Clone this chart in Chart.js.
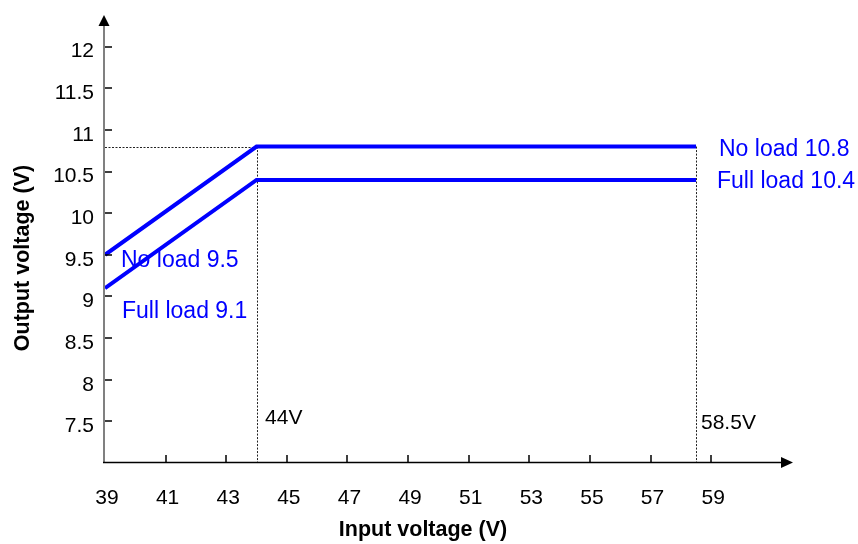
<!DOCTYPE html>
<html>
<head>
<meta charset="utf-8">
<script src="https://cdn.jsdelivr.net/npm/chart.js@4/dist/chart.umd.min.js"></script>
<style>
  html, body { margin: 0; padding: 0; background: #fff; }
  #wrap { width: 858px; height: 544px; position: relative; }
</style>
</head>
<body>
<div id="wrap"><canvas id="voltageChart"></canvas></div>
<script>
// input voltage breakpoints and output voltage per load condition
const inputVoltage = [39, 44, 58.5]
const noLoadOutput = [9.5, 10.8, 10.8]
const fullLoadOutput = [9.1, 10.4, 10.4]

// axis ticks
const xTicks = [39, 41, 43, 45, 47, 49, 51, 53, 55, 57, 59]
const yTicks = [7.5, 8, 8.5, 9, 9.5, 10, 10.5, 11, 11.5, 12]

const FONT = "'Liberation Sans', Arial, Helvetica, sans-serif"
const BLUE = '#0000FF'

const toPoints = (ys) => inputVoltage.map((x, i) => ({ x: x, y: ys[i] }))

// axes with arrows, inward ticks, dotted guides and annotations
const diagramPlugin = {
  id: 'diagram',
  beforeDatasetsDraw (chart) {
    const { ctx, scales: { x, y } } = chart
    const knee = inputVoltage[1]
    const end = inputVoltage[inputVoltage.length - 1]
    const top = y.getPixelForValue(noLoadOutput[1])
    const base = y.getPixelForValue(7)

    ctx.save()
    ctx.strokeStyle = '#222'
    ctx.lineWidth = 1
    ctx.setLineDash([2, 1.5])
    ctx.beginPath()
    ctx.moveTo(x.getPixelForValue(39), Math.round(top) + 0.5)
    ctx.lineTo(x.getPixelForValue(knee), Math.round(top) + 0.5)
    ctx.moveTo(Math.round(x.getPixelForValue(knee)) + 0.5, top)
    ctx.lineTo(Math.round(x.getPixelForValue(knee)) + 0.5, base)
    ctx.moveTo(Math.round(x.getPixelForValue(end)) + 0.5, top)
    ctx.lineTo(Math.round(x.getPixelForValue(end)) + 0.5, base)
    ctx.stroke()
    ctx.restore()
  },
  afterDraw (chart) {
    const { ctx, chartArea, scales: { x, y } } = chart
    const x0 = x.getPixelForValue(39)
    const y0 = y.getPixelForValue(7)

    ctx.save()

    // y axis
    ctx.strokeStyle = '#808080'
    ctx.lineWidth = 2
    ctx.beginPath()
    ctx.moveTo(x0 - 1, y0)
    ctx.lineTo(x0 - 1, chartArea.top + 10)
    ctx.stroke()
    ctx.fillStyle = '#000'
    ctx.beginPath()
    ctx.moveTo(x0 - 1, chartArea.top)
    ctx.lineTo(x0 - 6.5, chartArea.top + 11)
    ctx.lineTo(x0 + 4.5, chartArea.top + 11)
    ctx.closePath()
    ctx.fill()

    // x axis
    ctx.strokeStyle = '#000'
    ctx.lineWidth = 1.5
    ctx.beginPath()
    ctx.moveTo(x0 - 2, y0 - 0.5)
    ctx.lineTo(chartArea.right - 10, y0 - 0.5)
    ctx.stroke()
    ctx.beginPath()
    ctx.moveTo(chartArea.right, y0 - 0.5)
    ctx.lineTo(chartArea.right - 12, y0 - 6)
    ctx.lineTo(chartArea.right - 12, y0 + 5)
    ctx.closePath()
    ctx.fill()

    // tick marks pointing into the plot
    ctx.lineWidth = 1.5
    ctx.beginPath()
    for (const v of yTicks) {
      const py = Math.round(y.getPixelForValue(v))
      ctx.moveTo(x0, py)
      ctx.lineTo(x0 + 7, py)
    }
    for (const v of xTicks) {
      if (v === 39) continue
      const px = Math.round(x.getPixelForValue(v))
      ctx.moveTo(px, y0)
      ctx.lineTo(px, y0 - 8)
    }
    ctx.stroke()

    // annotations
    const knee = inputVoltage[1]
    const end = inputVoltage[inputVoltage.length - 1]
    ctx.textAlign = 'left'
    ctx.textBaseline = 'alphabetic'
    ctx.fillStyle = BLUE
    ctx.font = '23px ' + FONT
    ctx.fillText('No load ' + noLoadOutput[2], x.getPixelForValue(end) + 23, y.getPixelForValue(noLoadOutput[2]) + 9)
    ctx.fillText('Full load ' + fullLoadOutput[2], x.getPixelForValue(end) + 21, y.getPixelForValue(fullLoadOutput[2]) + 8.5)
    ctx.fillText('No load ' + noLoadOutput[0], x0 + 16, y.getPixelForValue(noLoadOutput[0]) + 12.5)
    ctx.fillText('Full load ' + fullLoadOutput[0], x0 + 17, y.getPixelForValue(fullLoadOutput[0]) + 30)

    ctx.fillStyle = '#000'
    ctx.font = '21px ' + FONT
    ctx.fillText(knee + 'V', x.getPixelForValue(knee) + 8.5, 423.5)
    ctx.fillText(end + 'V', x.getPixelForValue(end) + 5, 429)

    // axis titles
    ctx.font = 'bold 21.5px ' + FONT
    ctx.textAlign = 'center'
    ctx.fillText('Input voltage (V)', 423, 536)
    ctx.translate(29, 258)
    ctx.rotate(-Math.PI / 2)
    ctx.fillText('Output voltage (V)', 0, 0)

    ctx.restore()
  }
}

const element = document.getElementById('voltageChart')
new Chart(element, {
  type: 'line',
  data: {
    datasets: [
      {
        label: 'No load',
        data: toPoints(noLoadOutput),
        borderColor: BLUE,
        borderWidth: 4,
        borderJoinStyle: 'miter',
        pointRadius: 0,
        tension: 0,
        fill: false
      },
      {
        label: 'Full load',
        data: toPoints(fullLoadOutput),
        borderColor: BLUE,
        borderWidth: 4,
        borderJoinStyle: 'miter',
        pointRadius: 0,
        tension: 0,
        fill: false
      }
    ]
  },
  options: {
    responsive: true,
    maintainAspectRatio: false,
    animation: false,
    layout: { padding: { top: 15, right: 65, left: 0, bottom: 0 } },
    plugins: {
      legend: { display: false },
      tooltip: { enabled: false }
    },
    scales: {
      x: {
        type: 'linear',
        min: 39,
        max: 61.7,
        afterFit: (scale) => {
          scale.height = 81
          scale.paddingLeft = 0
          scale.paddingRight = 0
        },
        afterBuildTicks: (scale) => { scale.ticks = xTicks.map(v => ({ value: v })) },
        grid: { display: false, drawTicks: false },
        border: { display: false },
        ticks: {
          autoSkip: false,
          maxRotation: 0,
          padding: 23,
          labelOffset: 2,
          color: '#000',
          font: { size: 21, family: FONT },
          callback: (value) => String(value)
        }
      },
      y: {
        type: 'linear',
        min: 7,
        max: 12.38,
        afterFit: (scale) => {
          scale.width = 105
          scale.paddingTop = 0
          scale.paddingBottom = 0
        },
        afterBuildTicks: (scale) => { scale.ticks = yTicks.map(v => ({ value: v })) },
        grid: { display: false, drawTicks: false },
        border: { display: false },
        ticks: {
          autoSkip: false,
          padding: 11,
          labelOffset: 5,
          color: '#000',
          font: { size: 21, family: FONT },
          callback: (value) => String(value)
        }
      }
    }
  },
  plugins: [diagramPlugin]
})
</script>
</body>
</html>
